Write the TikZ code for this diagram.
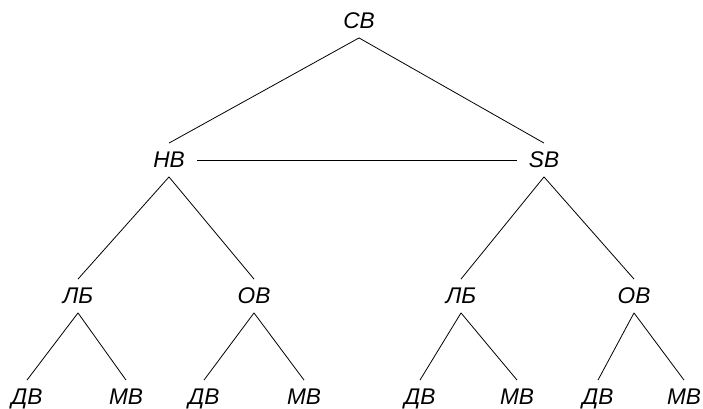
\documentclass[tikz,border=0pt]{standalone}
\usepackage{fontspec}
\setmainfont{Liberation Sans}

\begin{document}
\begin{tikzpicture}[
x=0.75pt, y=-0.75pt,
labelnode/.style={font=\fontsize{17}{20}\selectfont\itshape, text height=12pt, text depth=0pt, inner ysep=6.5pt, inner xsep=9pt},
edge/.style={draw=black, line width=0.6pt},
]
\useasboundingbox (0,0) rectangle (703,409);
%Nodes
\node[labelnode](cb) at (359,21){СВ};
\node[labelnode](hb) at (169,160){НВ};
\node[labelnode](sb) at (544,160){SB};

\node[labelnode](lb1) at (78,296){ЛБ};
\node[labelnode](ob1) at (254,296){ОВ};
\node[labelnode](lb2) at (461,296){ЛБ};
\node[labelnode](ob2) at (634,296){ОВ};

\node[labelnode](db1) at (27,397){ДВ};
\node[labelnode](mb1) at (126,397){МВ};
\node[labelnode](db2) at (204,397){ДВ};
\node[labelnode](mb2) at (304,397){МВ};
\node[labelnode](db3) at (420,397){ДВ};
\node[labelnode](mb3) at (517,397){МВ};
\node[labelnode](db4) at (598,397){ДВ};
\node[labelnode](mb4) at (684,397){МВ};

\draw[edge](cb.south) -- (hb.north);
\draw[edge](cb.south) -- (sb.north);
\draw[edge](hb.east) -- (sb.west);

\draw[edge](hb.south) -- (lb1.north);
\draw[edge](hb.south) -- (ob1.north);
\draw[edge](sb.south) -- (lb2.north);
\draw[edge](sb.south) -- (ob2.north);

\draw[edge](lb1.south) -- (db1.north);
\draw[edge](lb1.south) -- (mb1.north);
\draw[edge](ob1.south) -- (db2.north);
\draw[edge](ob1.south) -- (mb2.north);
\draw[edge](lb2.south) -- (db3.north);
\draw[edge](lb2.south) -- (mb3.north);
\draw[edge](ob2.south) -- (db4.north);
\draw[edge](ob2.south) -- (mb4.north);
\end{tikzpicture}
\end{document}
